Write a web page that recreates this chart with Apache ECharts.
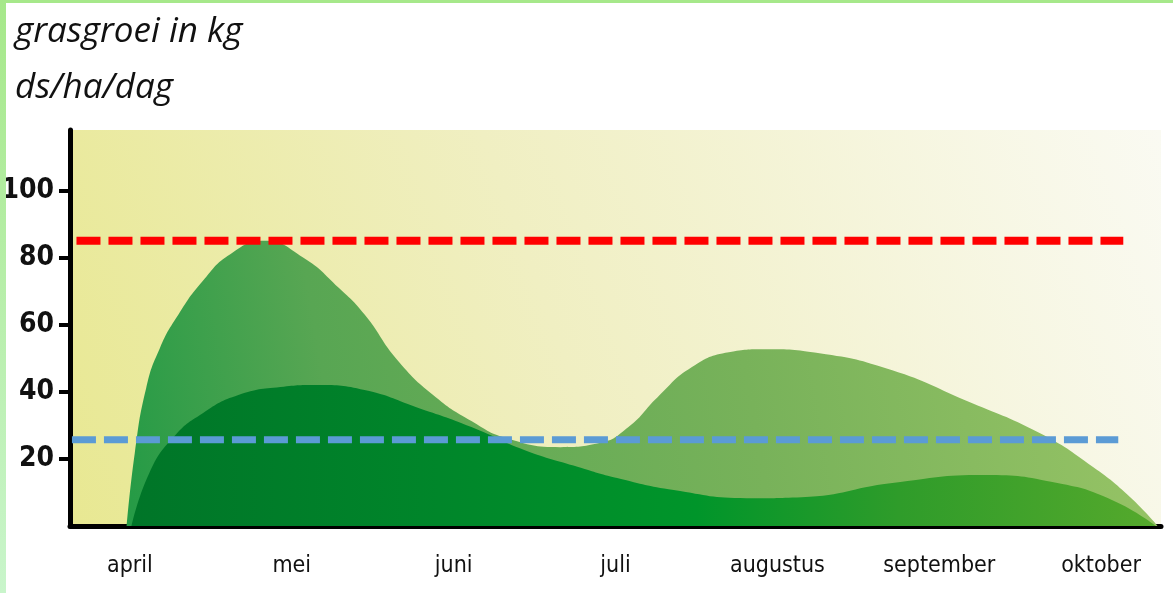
<!DOCTYPE html>
<html>
<head>
<meta charset="utf-8">
<script src="https://cdn.jsdelivr.net/npm/echarts@6/dist/echarts.min.js"></script>
<style>
    html, body { margin: 0; padding: 0; background: #fff; }
    #wrap { position: relative; width: 1173px; height: 593px; overflow: hidden; }
    #grasChart { width: 1173px; height: 593px; }
    .edgeTop { position: absolute; left: 0; top: 0; width: 1173px; height: 3px; background: #a6e88a; }
    .edgeLeft { position: absolute; left: 0; top: 0; width: 6px; height: 593px;
        background: linear-gradient(#a6e88a, #c9f5cb); }
</style>
</head>
<body>
<div id="wrap">
    <div id="grasChart"></div>
    <div class="edgeTop"></div>
    <div class="edgeLeft"></div>
</div>
<script>
    // maanden (x = maandindex, april = 0)
    const monthLabels = ['april', 'mei', 'juni', 'juli', 'augustus', 'september', 'oktober']
    const yTicks = [20, 40, 60, 80, 100]

    // grasgroei, lichte curve [maand, kg ds/ha/dag]
    const growthHigh = [
        [-0.02, 0], [0.03, 21.7], [0.1, 41], [0.185, 53], [0.3, 63], [0.45, 73],
        [0.62, 81], [0.83, 85], [1.07, 80], [1.29, 71], [1.45, 63], [1.66, 49],
        [1.89, 38.4], [2.11, 31.3], [2.32, 26.3], [2.66, 23.5], [2.9, 24.7],
        [3.08, 29.5], [3.26, 38.4], [3.47, 47.3], [3.7, 51.8], [3.92, 52.7],
        [4.26, 51.5], [4.71, 46.4], [5.16, 37.5], [5.62, 27.7], [5.95, 17.6],
        [6.18, 8.6], [6.35, 0]
    ]
    // grasgroei, donkere curve
    const growthLow = [
        [0.01, 0], [0.12, 15.8], [0.27, 26.5], [0.45, 33.6], [0.67, 39], [0.93, 41.4],
        [1.16, 42], [1.45, 40.5], [1.77, 35.4], [2.11, 29.5], [2.44, 22.6],
        [2.77, 17.6], [3.01, 14.3], [3.36, 10.7], [3.81, 8.3], [4.15, 8.6],
        [4.71, 12.8], [5.28, 15.2], [5.73, 12.8], [6.07, 7.7], [6.34, 0]
    ]
    // streeplijnen
    const redLevel = [[-0.33, 85], [6.137, 85]]
    const blueLevel = [[-0.358, 25.7], [6.106, 25.7]]

    const narrowFont = '"DejaVu Sans Condensed", "Liberation Sans Narrow", Roboto, sans-serif'

    let option = {
        animation: false,
        title: {
            text: 'grasgroei in kg\nds/ha/dag',
            left: 10,
            top: -1,
            textStyle: {
                fontFamily: 'Open Sans',
                fontStyle: 'italic',
                fontWeight: 'normal',
                fontSize: 35,
                lineHeight: 56,
                color: '#111'
            }
        },
        grid: {
            left: 70,
            right: 12,
            top: 130,
            bottom: 67,
            outerBoundsMode: 'none',
            containLabel: false,
            show: true,
            borderWidth: 0,
            backgroundColor: new echarts.graphic.LinearGradient(0, 1, 1, 0, [
                {offset: 0, color: '#e8e892'},
                {offset: 0.45, color: '#f0efc2'},
                {offset: 1, color: '#fafaf2'}
            ])
        },
        xAxis: {
            type: 'value',
            min: -0.37,
            max: 6.37,
            splitLine: {show: false},
            axisLine: {show: true, onZero: false, lineStyle: {color: '#000', width: 5}},
            axisTick: {show: false},
            axisLabel: {
                customValues: [0, 1, 2, 3, 4, 5, 6],
                margin: 29,
                formatter: v => monthLabels[Math.round(v)],
                fontFamily: narrowFont,
                fontSize: 23,
                color: '#111'
            }
        },
        yAxis: {
            type: 'value',
            min: 0,
            max: 118,
            splitLine: {show: false},
            axisLine: {show: true, onZero: false, lineStyle: {color: '#000', width: 5}},
            axisTick: {
                show: true,
                customValues: yTicks,
                length: 11,
                lineStyle: {color: '#000', width: 4}
            },
            axisLabel: {
                customValues: yTicks,
                margin: 16,
                fontFamily: narrowFont,
                fontWeight: 'bold',
                fontSize: 28,
                color: '#111'
            }
        },
        series: [
            {
                name: 'licht',
                type: 'line',
                smooth: 0.5,
                showSymbol: false,
                data: growthHigh,
                lineStyle: {width: 0},
                areaStyle: {
                    opacity: 1,
                    color: new echarts.graphic.LinearGradient(0, 0.8, 1, 0.2, [
                        {offset: 0, color: '#269b46'},
                        {offset: 0.2, color: '#58a653'},
                        {offset: 0.6, color: '#78b25a'},
                        {offset: 1, color: '#98c466'}
                    ])
                },
                z: 1
            },
            {
                name: 'donker',
                type: 'line',
                smooth: 0.5,
                showSymbol: false,
                data: growthLow,
                lineStyle: {width: 0},
                areaStyle: {
                    opacity: 1,
                    color: new echarts.graphic.LinearGradient(0, 0, 1, 0, [
                        {offset: 0, color: '#007528'},
                        {offset: 0.3, color: '#00862a'},
                        {offset: 0.55, color: '#00952a'},
                        {offset: 0.75, color: '#2f9c2a'},
                        {offset: 1, color: '#55a92c'}
                    ])
                },
                z: 2
            },
            {
                type: 'line',
                data: redLevel,
                showSymbol: false,
                lineStyle: {color: '#ff0000', width: 8, type: [24, 8], cap: 'butt'},
                z: 3
            },
            {
                type: 'line',
                data: blueLevel,
                showSymbol: false,
                lineStyle: {color: '#5b9bd5', width: 7, type: [24, 8], cap: 'butt'},
                z: 3
            }
        ]
    }
    let myChart = echarts.init(document.getElementById('grasChart'))
    myChart.setOption(option)
</script>
</body>
</html>
